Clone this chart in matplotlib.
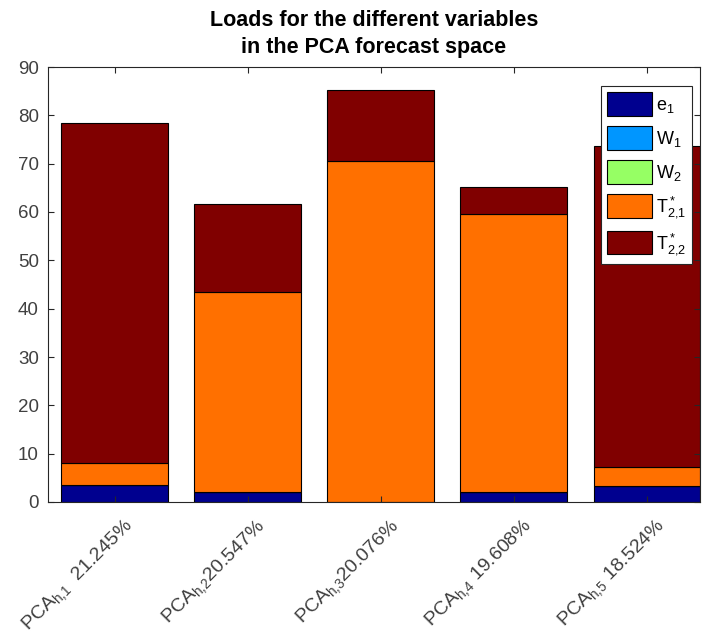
import matplotlib
matplotlib.use("Agg")
import matplotlib.pyplot as plt
import matplotlib.transforms as mtransforms
import numpy as np

plt.rcParams['font.family'] = ['Liberation Sans', 'DejaVu Sans']
plt.rcParams['mathtext.default'] = 'regular'

# Explained variance per forecast component
components = ["PCA$_{h{,}1}$  21.245%", "PCA$_{h{,}2}$20.547%", "PCA$_{h{,}3}$20.076%",
              "PCA$_{h{,}4}$ 19.608%", "PCA$_{h{,}5}$ 18.524%"]

# Stacked loads per variable
e1 = [3.6, 2.1, 0.0, 2.1, 3.3]
w1 = [0.0, 0.0, 0.0, 0.0, 0.0]
w2 = [0.0, 0.0, 0.0, 0.0, 0.0]
t21 = [4.4, 41.4, 70.5, 57.5, 4.0]
t22 = [70.5, 18.1, 14.7, 5.6, 66.3]

series_names = ["e$_1$", "W$_1$", "W$_2$", "T$^*_{2{,}1}$", "T$^*_{2{,}2}$"]
series_colors = ["#00008F", "#0096FF", "#96FF64", "#FF7000", "#800000"]

fig = plt.figure(figsize=(7.05, 6.35), dpi=100)
ax = fig.add_axes([48 / 705, 1 - 502 / 635, 652 / 705, 435 / 635])

x = np.arange(1, len(components) + 1)
bottom = np.zeros(len(components))
handles = []
for vals, name, col in zip([e1, w1, w2, t21, t22], series_names, series_colors):
    vals = np.asarray(vals)
    h = ax.bar(x, vals, width=0.8, bottom=bottom, color=col, edgecolor='black',
               linewidth=0.8, label=name)
    handles.append(h)
    bottom = bottom + vals

ax.set_xlim(0.5, 5.4)
ax.set_ylim(0, 90)
ax.set_yticks(np.arange(0, 91, 10))
ax.set_xticks(x)

gray = '#262626'
for s in ax.spines.values():
    s.set_color(gray)
    s.set_linewidth(0.8)
ax.tick_params(direction='in', top=True, right=True, length=4, width=0.8,
               color=gray, labelcolor='#404040', labelsize=13.5)
ax.tick_params(axis='y', pad=6.5)
ax.tick_params(axis='x', pad=4, labelsize=14)

ax.set_xticklabels(components, rotation=45, ha='right', va='top',
                   rotation_mode='anchor')
offset = mtransforms.ScaledTranslation(8 / 100, -8 / 100, fig.dpi_scale_trans)
for lbl in ax.get_xticklabels():
    lbl.set_transform(lbl.get_transform() + offset)

ax.set_title("Loads for the different variables\nin the PCA forecast space",
             fontsize=15.5, fontweight='bold', color='black', pad=10,
             linespacing=1.4)

leg = ax.legend(handles=handles, labels=series_names, loc='upper right',
                bbox_to_anchor=(692 / 705, 1 - 86 / 635),
                bbox_transform=fig.transFigure, borderaxespad=0,
                fontsize=13, handlelength=2.5, handleheight=1.6,
                labelspacing=0.6, handletextpad=0.2, borderpad=0.35,
                fancybox=False, framealpha=1, edgecolor=gray)
leg.get_frame().set_linewidth(0.8)

fig.savefig("out.png", dpi=100)
